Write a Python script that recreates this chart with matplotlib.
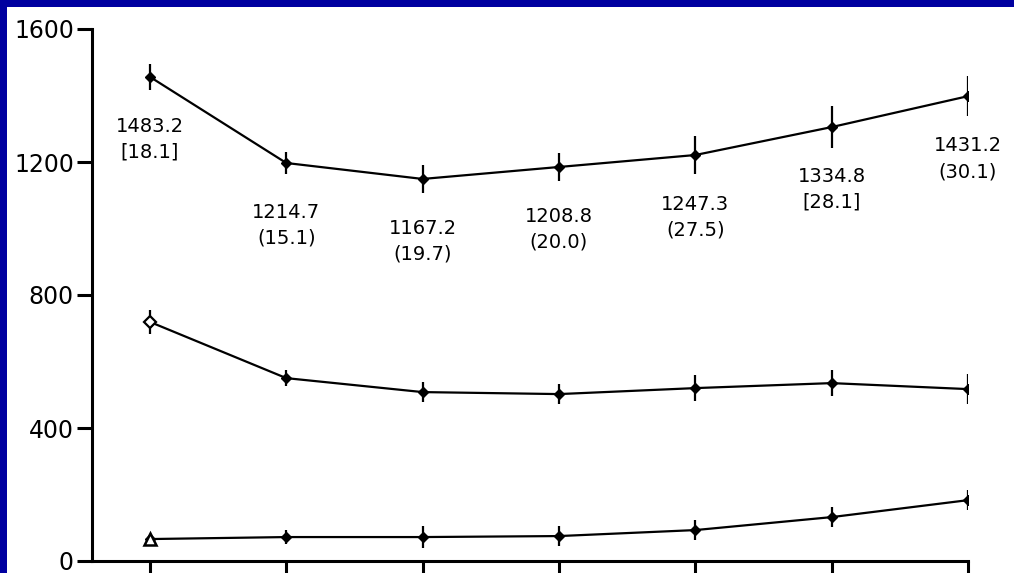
import matplotlib
matplotlib.use("Agg")
import matplotlib.pyplot as plt
from matplotlib.patches import Rectangle
import numpy as np

# ---- data ----
positions = [1, 2, 3, 4, 5, 6, 7]
top_values = [1456, 1197, 1149, 1185, 1221, 1305, 1398]
top_errors = [40, 33, 42, 42, 57, 64, 60]
mid_values = [719, 550, 508, 502, 520, 535, 517]
mid_errors = [35, 25, 30, 30, 38, 40, 45]
low_values = [66, 72, 72, 75, 93, 132, 183]
low_errors = [10, 20, 32, 30, 29, 30, 30]
top_labels = ["1483.2\n[18.1]", "1214.7\n(15.1)", "1167.2\n(19.7)", "1208.8\n(20.0)",
              "1247.3\n(27.5)", "1334.8\n[28.1]", "1431.2\n(30.1)"]
y_ticks = [0, 400, 800, 1200, 1600]

W, H = 1014, 573
fig = plt.figure(figsize=(W / 100, H / 100), dpi=100)
fig.patch.set_facecolor("#0000A0")
fig.patches.append(Rectangle((7 / W, 0), 1 - 7 / W, 1 - 7 / H, transform=fig.transFigure,
                             facecolor="white", edgecolor="none", zorder=-10))

ax = fig.add_axes([92 / W, 1 - 561 / H, (968 - 92) / W, (561 - 29) / H])
ax.set_facecolor("none")
ax.set_zorder(5)

line_kw = dict(color="black", lw=1.6, elinewidth=1.6, capsize=0, marker="D", ms=5,
               mfc="black", mec="black")
for vals, errs in [(top_values, top_errors), (mid_values, mid_errors), (low_values, low_errors)]:
    ax.errorbar(positions, vals, yerr=errs, **line_kw)

# open markers on first points of middle and low series
ax.plot(positions[0], mid_values[0], marker="D", ms=6, mfc="white", mec="black", mew=1.6,
        zorder=10)
ax.plot(positions[0], low_values[0], marker="^", ms=8, mfc="white", mec="black", mew=1.8,
        zorder=10)

for x, y, lab in zip(positions, top_values, top_labels):
    ax.annotate(lab, (x, y), xytext=(0, -45), textcoords="offset points",
                ha="center", va="center", fontsize=14, linespacing=1.45,
                family="DejaVu Sans", color="black")

ax.set_xlim(0.575, 7.0)
ax.set_ylim(0, 1600)
ax.set_yticks(y_ticks)
ax.set_yticklabels([str(v) for v in y_ticks], fontsize=17)
ax.set_xticks(positions)
ax.set_xticklabels([""] * len(positions))
for s in ["top", "right"]:
    ax.spines[s].set_visible(False)
for s in ["left", "bottom"]:
    ax.spines[s].set_linewidth(2.2)
ax.tick_params(axis="y", length=11, width=2.2, pad=2)
ax.tick_params(axis="x", length=12, width=2.2)

fig.savefig("out.png", dpi=100, facecolor=fig.get_facecolor())
